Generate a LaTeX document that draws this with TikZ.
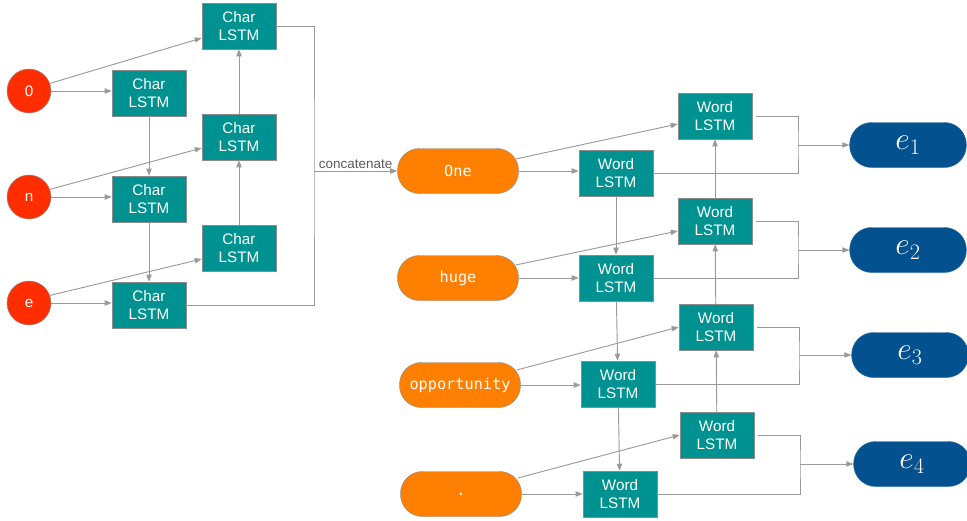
\RequirePackage{fix-cm}
\documentclass[tikz,border=0pt]{standalone}
\usepackage{fontspec}
\newfontfamily\labelfont{Liberation Sans}
\newfontfamily\tokenfont{DejaVu Sans Mono}
\usetikzlibrary{calc,arrows.meta}
\definecolor{cell}{HTML}{009290}
\definecolor{charin}{HTML}{FF2D00}
\definecolor{token}{HTML}{FF7F00}
\definecolor{embed}{HTML}{04518F}
\definecolor{wiregray}{HTML}{9A9A9A}
\definecolor{rim}{HTML}{8C8C8C}
\definecolor{note}{HTML}{5A5A5A}

\begin{document}
\begin{tikzpicture}[x=0.03cm,y=-0.03cm,font=\labelfont\fontsize{13}{16}\selectfont,
  lstm/.style={draw=rim,fill=cell,text=white,minimum width=2.22cm,minimum height=1.38cm,inner sep=0pt,align=center},
  chin/.style={circle,draw=rim,fill=charin,text=white,minimum size=1.32cm,inner sep=0pt},
  tok/.style={draw=rim,fill=token,text=white,rounded corners=0.66cm,minimum width=3.63cm,minimum height=1.35cm,inner sep=0pt,font=\tokenfont\fontsize{13}{16}\selectfont},
  emb/.style={draw=embed!85!white,fill=embed,text=white,rounded corners=0.66cm,minimum width=3.5cm,minimum height=1.35cm,inner sep=0pt,font=\fontsize{27}{30}\selectfont},
  link/.style={wiregray,line width=0.8pt},
  arr/.style={wiregray,line width=0.8pt,-{Triangle[length=6pt,width=4.5pt]}}]
  \useasboundingbox (0,0) rectangle (967,520);
  \node[chin] (c0) at (29,91){0};
  \node[chin] (cn) at (29,197){n};
  \node[chin] (ce) at (29,303){e};
  \node[lstm] (cf1) at (149,93){Char\\LSTM};
  \node[lstm] (cf2) at (149,199){Char\\LSTM};
  \node[lstm] (cf3) at (149,305){Char\\LSTM};
  \node[lstm] (cb1) at (239,26){Char\\LSTM};
  \node[lstm] (cb2) at (239,137){Char\\LSTM};
  \node[lstm] (cb3) at (239,248){Char\\LSTM};
  \draw[arr] (c0.east) -- (c0.east -| cf1.west);
  \draw[arr] (cn.east) -- (cn.east -| cf2.west);
  \draw[arr] (ce.east) -- (ce.east -| cf3.west);
  \draw[arr] (c0.20) -- ($(cb1.west)+(0,12)$);
  \draw[arr] (cn.20) -- ($(cb2.west)+(0,11)$);
  \draw[arr] (ce.20) -- ($(cb3.west)+(0,11)$);
  \draw[arr] (cf1) -- (cf2);
  \draw[arr] (cf2) -- (cf3);
  \draw[arr] (cb3) -- (cb2);
  \draw[arr] (cb2) -- (cb1);
  \coordinate (cat) at (314,171);
  \draw[link] (cb1.east) -| (cat) |- (cf3.east);
  \node[tok] (w1) at (458,171){One};
  \node[tok] (w2) at (458,278){huge};
  \node[tok] (w3) at (460,385){opportunity};
  \node[tok] (w4) at (461,494){.};
  \draw[arr] (cat) -- (w1.west) node[midway,above,inner sep=1.5pt,text=note,font=\labelfont\fontsize{11.5}{13}\selectfont]{concatenate};
  \node[lstm] (wf1) at (616,173){Word\\LSTM};
  \node[lstm] (wf2) at (616,278){Word\\LSTM};
  \node[lstm] (wf3) at (618,384){Word\\LSTM};
  \node[lstm] (wf4) at (620,494){Word\\LSTM};
  \node[lstm] (wb1) at (715,116){Word\\LSTM};
  \node[lstm] (wb2) at (715,221){Word\\LSTM};
  \node[lstm] (wb3) at (716,327){Word\\LSTM};
  \node[lstm] (wb4) at (717,435){Word\\LSTM};
  \draw[arr] (w1.east) -- (w1.east -| wf1.west);
  \draw[arr] (w2.east) -- (w2.east -| wf2.west);
  \draw[arr] (w3.east) -- (w3.east -| wf3.west);
  \draw[arr] (w4.east) -- (w4.east -| wf4.west);
  \draw[arr] ($(w1.east)+(-3,-12)$) -- ($(wb1.west)+(0,8)$);
  \draw[arr] ($(w2.east)+(-3,-13)$) -- ($(wb2.west)+(0,10)$);
  \draw[arr] ($(w3.east)+(-4,-15)$) -- (wb3.west);
  \draw[arr] ($(w4.east)+(-4,-16)$) -- (wb4.west);
  \draw[arr] (wf1) -- (wf2);
  \draw[arr] (wf2) -- (wf3);
  \draw[arr] (wf3) -- (wf4);
  \draw[arr] (wb4) -- (wb3);
  \draw[arr] (wb3) -- (wb2);
  \draw[arr] (wb2) -- (wb1);
  \node[emb] (e1) at (908,145){$e_1$};
  \node[emb] (e2) at (908,250){$e_2$};
  \node[emb] (e3) at (910,355){$e_3$};
  \node[emb] (e4) at (912,464){$e_4$};
  \coordinate (m1) at (798,145);
  \coordinate (m2) at (798,250);
  \coordinate (m3) at (799,355);
  \coordinate (m4) at (800,464);
  \draw[link] ($(wb1.east)+(4,0)$) -| (m1) |- (wf1.east);
  \draw[link] ($(wb2.east)+(4,0)$) -| (m2) |- (wf2.east);
  \draw[link] ($(wb3.east)+(4,0)$) -| (m3) |- (wf3.east);
  \draw[link] ($(wb4.east)+(4,0)$) -| (m4) |- (wf4.east);
  \draw[arr] (m1) -- (e1.west);
  \draw[arr] (m2) -- (e2.west);
  \draw[arr] (m3) -- (e3.west);
  \draw[arr] (m4) -- (e4.west);
\end{tikzpicture}
\end{document}
